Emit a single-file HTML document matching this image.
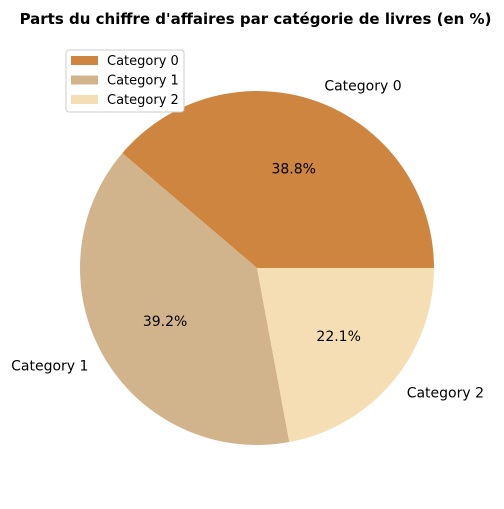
<!DOCTYPE html>
<html><head><meta charset="utf-8"><style>
body{margin:0;background:#fff;}
svg{font-family:"DejaVu Sans","Liberation Sans",sans-serif;}
</style></head><body>
<svg id="chart" width="504" height="504" viewBox="0 0 504 504">
<text x="255.5" y="24" text-anchor="middle" font-size="15" font-weight="bold">Parts du chiffre d'affaires par catégorie de livres (en %)</text>
<g id="slices"></g>
<g id="legend">
<rect x="66" y="50" width="118" height="62" rx="3" fill="#fff" stroke="#ccc"/>
</g>
</svg>
<script>
const categories = ["Category 0","Category 1","Category 2"];
const values = [38.8, 39.2, 22.1];
const colors = ["#CD853F","#D2B48C","#F5DEB3"];
const cx=257, cy=268, r=177;
const ns="http://www.w3.org/2000/svg";
const g=document.getElementById('slices');
const total=values.reduce((a,b)=>a+b,0);
let a0=0;
function pt(a,rad){return [cx+rad*Math.cos(a*Math.PI/180), cy-rad*Math.sin(a*Math.PI/180)];}
values.forEach((v,i)=>{
  const sweep=v/total*360, a1=a0+sweep;
  const [x0,y0]=pt(a0,r),[x1,y1]=pt(a1,r);
  const p=document.createElementNS(ns,'path');
  p.setAttribute('d',`M${cx},${cy} L${x0},${y0} A${r},${r} 0 ${sweep>180?1:0} 0 ${x1},${y1} Z`);
  p.setAttribute('fill',colors[i]);
  
  
  g.appendChild(p);
  const mid=(a0+a1)/2;
  const [lx,ly]=pt(mid,r*1.1);
  const t=document.createElementNS(ns,'text');
  t.setAttribute('x',lx);t.setAttribute('y',ly+5);t.setAttribute('font-size','14');
  t.setAttribute('text-anchor',Math.cos(mid*Math.PI/180)>=0?'start':'end');
  t.textContent=categories[i];
  
  
  g.appendChild(t);
  const [px,py]=pt(mid,r*0.6);
  const q=document.createElementNS(ns,'text');
  q.setAttribute('x',px);q.setAttribute('y',py+5);q.setAttribute('font-size','14');q.setAttribute('text-anchor','middle');
  q.textContent=v.toFixed(1)+'%';
  
  
  g.appendChild(q);
  a0=a1;
});
const lg=document.getElementById('legend');
categories.forEach((c,i)=>{
  const y=56+i*19.5;
  const rr=document.createElementNS(ns,'rect');
  rr.setAttribute('x',71);rr.setAttribute('y',y);rr.setAttribute('width',27);rr.setAttribute('height',9);rr.setAttribute('fill',colors[i]);
  
  
  lg.appendChild(rr);
  const t=document.createElementNS(ns,'text');
  t.setAttribute('x',107);t.setAttribute('y',y+9);t.setAttribute('font-size','13');
  t.textContent=c;
  
  
  lg.appendChild(t);
});
</script>
</body></html>
